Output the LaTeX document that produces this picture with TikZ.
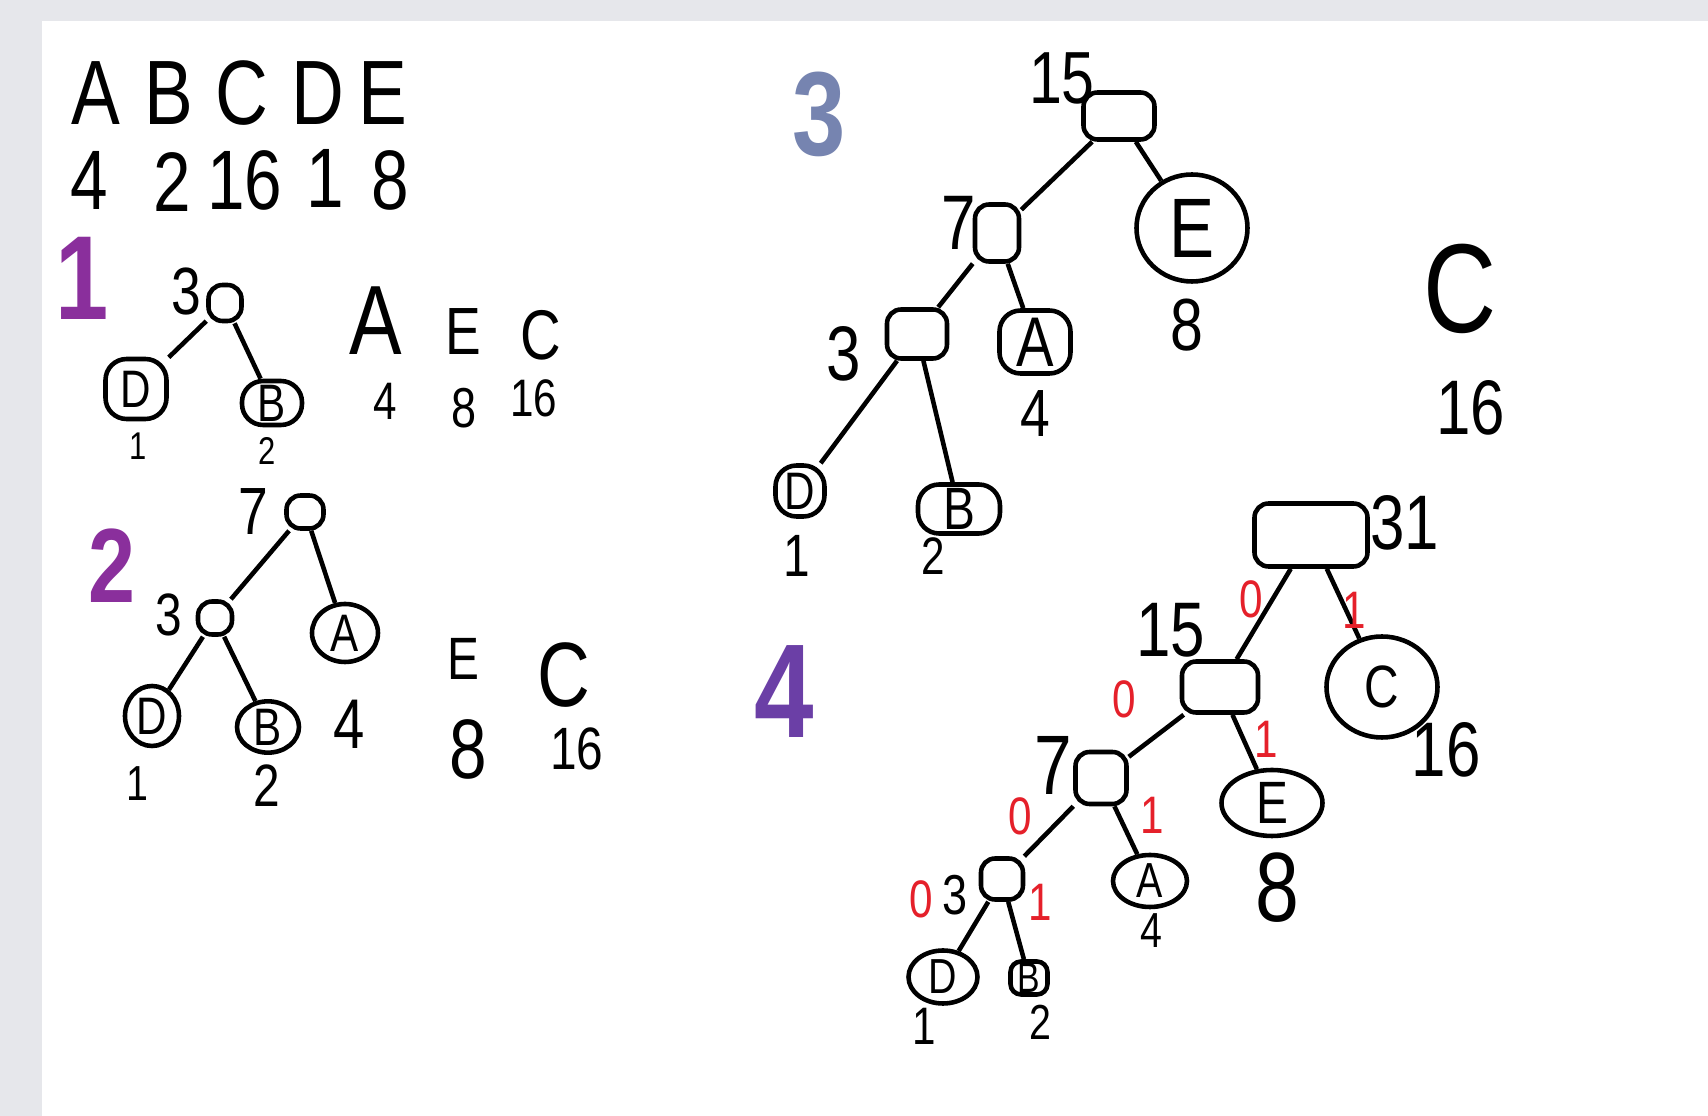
\documentclass[tikz,border=0pt]{standalone}
\usepackage{fontspec}
\setmainfont{Liberation Sans}[FakeStretch=0.8]
\usetikzlibrary{shapes.geometric}
\definecolor{desk}{HTML}{E6E7EB}
\definecolor{plum}{HTML}{8A2F9C}
\definecolor{slate}{HTML}{7684B0}
\definecolor{indigo}{HTML}{6B3FA6}
\definecolor{bitred}{HTML}{E5202A}
\newcommand\fsz[1]{\fontsize{#1}{#1}\selectfont}
\tikzset{
  wh/.style 2 args={minimum width=#1*0.01cm,minimum height=#2*0.01cm},
  sumbox/.style={rectangle,draw,rounded corners=4pt,line width=1.3pt,inner sep=0pt},
  leafbox/.style={rectangle,draw,rounded corners=6pt,line width=1.3pt,inner sep=0pt,font=\fsz{15}},
  leafblob/.style={ellipse,draw,line width=1.3pt,inner sep=0pt,font=\fsz{15}},
  wt/.style={inner sep=0pt},
  link/.style={line width=1.3pt},
  bit/.style={inner sep=0pt,text=bitred,font=\fsz{15}},
  stage/.style={inner sep=0pt,font=\bfseries\fsz{34}}
}

\begin{document}
\begin{tikzpicture}[x=0.01cm,y=-0.01cm]
    \fill[desk] (0,0) rectangle (1708,1116);
    \fill[white] (42,21) rectangle (1708,1116);
    \node[wt,font=\fsz{26}] (lA) at (96,93) {A}; \node[wt,font=\fsz{26}] (lB) at (169,93) {B};
    \node[wt,font=\fsz{26}] (lC) at (242,93) {C}; \node[wt,font=\fsz{26}] (lD) at (318,93) {D};
    \node[wt,font=\fsz{26}] (lE) at (383,93) {E};
    \node[wt,font=\fsz{24}] (nA) at (89,180) {4}; \node[wt,font=\fsz{24}] (nB) at (172,182) {2};
    \node[wt,font=\fsz{24}] (nC) at (245,180) {16}; \node[wt,font=\fsz{24}] (nD) at (325,178) {1};
    \node[wt,font=\fsz{24}] (nE) at (390,180) {8};
    \node[stage,text=plum] (st1) at (82,278) {1};
    \node[stage,text=plum,font=\bfseries\fsz{30}] (st2) at (112,566) {2};
    \node[stage,text=slate] (st3) at (819,114) {3};
    \node[stage,text=indigo,font=\bfseries\fsz{38}] (st4) at (784,692) {4};
    \node[wt,font=\fsz{19}] (t1w) at (186,292) {3};
    \node[sumbox,wh={33}{36}] (r1) at (225,303) {};
    \node[leafbox,wh={61}{60}] (d1) at (136,389) {D};
    \node[leafbox,wh={60}{44}] (b1) at (272,403) {B};
    \node[wt,font=\fsz{11}] (d1w) at (138,446) {1}; \node[wt,font=\fsz{11}] (b1w) at (267,451) {2};
    \node[wt,font=\fsz{28}] (a1) at (376,321) {A}; \node[wt,font=\fsz{19}] (e1) at (463,332) {E};
    \node[wt,font=\fsz{20}] (c1) at (541,335) {C};
    \node[wt,font=\fsz{15}] (a1w) at (385,401) {4}; \node[wt,font=\fsz{16}] (e1w) at (464,408) {8};
    \node[wt,font=\fsz{15}] (c1w) at (534,398) {16};
    \draw[link] (r1) -- (d1); \draw[link] (r1) -- (b1);
    \node[wt,font=\fsz{19}] (t2w) at (253,512) {7};
    \node[sumbox,wh={37}{33}] (r2) at (305,512) {};
    \node[wt,font=\fsz{17}] (m2w) at (169,615) {3};
    \node[sumbox,wh={34}{33}] (m2) at (215,618) {};
    \node[leafblob,wh={66}{58}] (a2) at (345,633) {A};
    \node[leafblob,wh={54}{60}] (d2) at (152,716) {D};
    \node[leafblob,wh={62}{49}] (b2) at (268,727) {B};
    \node[wt,font=\fsz{14}] (d2w) at (137,784) {1}; \node[wt,font=\fsz{17}] (b2w) at (267,786) {2};
    \node[wt,font=\fsz{20}] (a2w) at (349,724) {4};
    \node[wt,font=\fsz{17}] (e2) at (463,659) {E}; \node[wt,font=\fsz{26}] (c2) at (564,675) {C};
    \node[wt,font=\fsz{24}] (e2w) at (468,749) {8}; \node[wt,font=\fsz{17}] (c2w) at (577,749) {16};
    \draw[link] (r2) -- (m2); \draw[link] (r2) -- (a2);
    \draw[link] (m2) -- (d2); \draw[link] (m2) -- (b2);
    \node[wt,font=\fsz{21}] (t3w) at (1062,78) {15};
    \node[sumbox,wh={71}{47}] (r3) at (1119,116) {};
    \node[leafblob,wh={111}{107},font=\fsz{24}] (e3) at (1192,228) {E};
    \node[wt,font=\fsz{21}] (e3w) at (1187,325) {8};
    \node[wt,font=\fsz{22}] (s3w) at (959,223) {7};
    \node[sumbox,wh={44}{57}] (s3) at (997,233) {};
    \node[wt,font=\fsz{22}] (m3w) at (844,354) {3};
    \node[sumbox,wh={60}{49}] (m3) at (917,334) {};
    \node[leafbox,wh={71}{63},font=\fsz{20}] (a3) at (1035,342) {A};
    \node[wt,font=\fsz{19}] (a3w) at (1035,414) {4};
    \node[leafbox,wh={49}{51}] (d3) at (800,491) {D};
    \node[wt,font=\fsz{17}] (d3w) at (797,556) {1};
    \node[leafbox,wh={82}{49},font=\fsz{17}] (b3) at (959,509) {B};
    \node[wt,font=\fsz{15}] (b3w) at (933,556) {2};
    \node[wt,font=\fsz{36}] (c3) at (1460,289) {C}; \node[wt,font=\fsz{22}] (c3w) at (1471,408) {16};
    \draw[link] (r3) -- (s3); \draw[link] (r3) -- (e3);
    \draw[link] (s3) -- (m3); \draw[link] (s3) -- (a3);
    \draw[link] (m3) -- (d3); \draw[link] (m3) -- (b3);
    \node[sumbox,wh={113}{63}] (r4) at (1311,535) {};
    \node[wt,font=\fsz{22}] (r4w) at (1405,523) {31};
    \node[sumbox,wh={76}{51}] (f4) at (1220,687) {};
    \node[wt,font=\fsz{22}] (f4w) at (1171,630) {15};
    \node[leafblob,wh={111}{101},font=\fsz{17}] (c4) at (1382,687) {C};
    \node[wt,font=\fsz{22}] (c4w) at (1446,750) {16};
    \node[sumbox,wh={51}{52}] (s4) at (1101,778) {};
    \node[wt,font=\fsz{24}] (s4w) at (1053,765) {7};
    \node[leafblob,wh={101}{66},font=\fsz{17}] (e4) at (1272,803) {E};
    \node[wt,font=\fsz{28}] (e4w) at (1277,888) {8};
    \node[sumbox,wh={42}{41}] (m4) at (1002,879) {};
    \node[wt,font=\fsz{16}] (m4w) at (955,895) {3};
    \node[leafblob,wh={74}{52},font=\fsz{14}] (a4) at (1150,881) {A};
    \node[wt,font=\fsz{14}] (a4w) at (1151,931) {4};
    \node[leafblob,wh={69}{53},font=\fsz{14}] (d4) at (943,977) {D};
    \node[wt,font=\fsz{15}] (d4w) at (924,1026) {1};
    \node[leafbox,wh={37}{33},font=\fsz{12},rounded corners=3pt] (b4) at (1029,978) {B};
    \node[wt,font=\fsz{14}] (b4w) at (1040,1022) {2};
    \draw[link] (r4) -- (f4); \draw[link] (r4) -- (c4);
    \draw[link] (f4) -- (s4); \draw[link] (f4) -- (e4);
    \draw[link] (s4) -- (m4); \draw[link] (s4) -- (a4);
    \draw[link] (m4) -- (d4); \draw[link] (m4) -- (b4);
    \node[bit] (k1) at (1251,599) {0}; \node[bit] (k2) at (1354,610) {1};
    \node[bit] (k3) at (1124,699) {0}; \node[bit] (k4) at (1266,739) {1};
    \node[bit] (k5) at (1020,816) {0}; \node[bit] (k6) at (1152,815) {1};
    \node[bit] (k7) at (921,899) {0}; \node[bit] (k8) at (1040,902) {1};
\end{tikzpicture}
\end{document}
